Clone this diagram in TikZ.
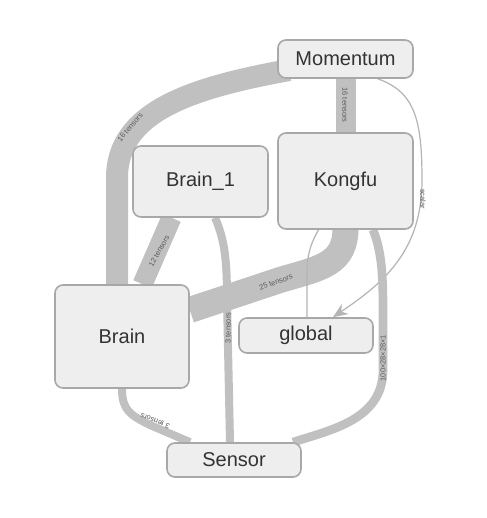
\documentclass[tikz,border=0pt]{standalone}
\usepackage{fontspec}
\setmainfont{Liberation Sans}
\usetikzlibrary{calc,arrows.meta}
\pgfdeclarelayer{background}
\pgfsetlayers{background,main}
\definecolor{bandc}{HTML}{C0C0C0}
\definecolor{thinc}{HTML}{B4B4B4}
\definecolor{nodefill}{HTML}{EEEEEE}
\definecolor{nodeline}{HTML}{A8A8A8}
\definecolor{txt}{HTML}{333333}
\definecolor{lbl}{HTML}{5A5A5A}
\tikzset{
  box/.style={draw=nodeline, fill=nodefill, line width=1.2pt, rounded corners=6pt,
    text=txt, font=\fontsize{15}{18}\selectfont, inner sep=0pt},
  band/.style={draw=bandc, line cap=butt},
  thinedge/.style={draw=thinc, line width=0.9pt},
  elabel/.style={text=lbl, font=\fontsize{5.6}{6}\selectfont, inner sep=0pt}
}
\begin{document}
\begin{tikzpicture}[x=0.75pt,y=-0.75pt]
\begin{pgfonlayer}{background}
\useasboundingbox[fill=white] (0,0) rectangle (486,518);
\end{pgfonlayer}
% nodes
\node[box, minimum width=101.25pt, minimum height=28.5pt] (mom) at (345.5,59) {Momentum};
\node[box, minimum width=101.25pt, minimum height=72pt] (kong) at (345.5,181) {Kongfu};
\node[box, minimum width=101.25pt, minimum height=53.25pt] (b1) at (200.5,181.5) {Brain\_1};
\node[box, minimum width=100.5pt, minimum height=77.25pt] (brain) at (122,336.5) {Brain};
\node[box, minimum width=100.5pt, minimum height=26.25pt] (glob) at (306,335.5) {global};
\node[box, minimum width=100.5pt, minimum height=25.5pt] (sens) at (234,460) {Sensor};
% edges (behind nodes)
\begin{pgfonlayer}{background}
\draw[band, line width=16.5pt] ($(mom.west)+(12,11)$) .. controls (190,88) and (117,112) .. (117,178) -- ($(brain.north)+(-5,5)$);
\draw[band, line width=15pt] (mom.south) -- (kong.north);
\draw[thinedge, -{Stealth[length=11pt,width=9pt]}] ($(mom.south east)+(-36,0)$) .. controls (415,92) and (422,120) .. (422,180) .. controls (422,250) and (385,282) .. ($(glob.north)+(27,0)$);
\draw[band, line width=15pt] ($(b1.south)+(-29,0)$) -- ($(brain.north)+(20.5,0)$);
\draw[band, line width=6pt] ($(b1.south)+(14.5,0)$) .. controls (225,240) and (227,262) .. (227,300) -- ($(sens.north)+(-4,0)$);
\draw[band, line width=19.5pt] ($(kong.south)+(0,-3)$) .. controls (346,265) and (320,268) .. (280,280) -- ($(brain.east)+(0,-26.5)$);
\draw[thinedge] ($(kong.south)+(-27,0)$) .. controls (310,245) and (307,255) .. (307,275) -- ($(glob.north)+(1,0)$);
\draw[band, line width=6.5pt] ($(kong.south)+(27.5,0)$) .. controls (381,250) and (383,270) .. (383,310) -- (383,370) .. controls (383,420) and (330,430) .. ($(sens.north)+(59,0)$);
\draw[band, line width=6pt] (brain.south) .. controls (122,410) and (130,415) .. (150,425) -- ($(sens.north)+(-44,0)$);
\end{pgfonlayer}
% edge labels
\node[elabel, rotate=50] (l1) at (130,127) {16 tensors};
\node[elabel, rotate=-90] (l2) at (345,105) {16 tensors};
\node[elabel, rotate=-90] (l3) at (423,199) {scalar};
\node[elabel, rotate=61] (l4) at (159,251) {12 tensors};
\node[elabel, rotate=90] (l5) at (228,328) {3 tensors};
\node[elabel, rotate=20] (l6) at (276,282) {25 tensors};
\node[elabel, rotate=90] (l7) at (383,358) {100×28×28×1};
\node[elabel, rotate=159] (l8) at (155,421) {3 tensors};
\end{tikzpicture}
\end{document}
